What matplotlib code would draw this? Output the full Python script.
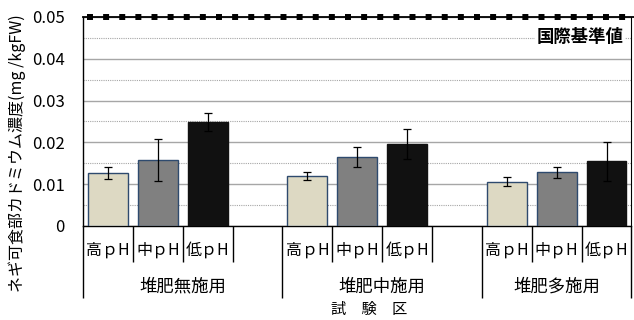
import matplotlib.pyplot as plt
import matplotlib.transforms as mtransforms

plt.rcParams['font.family'] = ['Noto Sans CJK JP', 'DejaVu Sans']

groups = ['堆肥無施用', '堆肥中施用', '堆肥多施用']
levels = ['高ｐH', '中ｐH', '低ｐH']
values = [[0.0127, 0.0158, 0.0248],
          [0.0120, 0.0165, 0.0195],
          [0.0106, 0.0128, 0.0155]]
errors = [[0.0015, 0.0050, 0.0021],
          [0.0010, 0.0025, 0.0036],
          [0.0010, 0.0013, 0.0047]]
standard = 0.05
yticks = [0, 0.01, 0.02, 0.03, 0.04, 0.05]
ytick_labels = ['0', '0.01', '0.02', '0.03', '0.04', '0.05']

colors = ['#ddd9c3', '#808080', '#111111']
edges = ['#2e4a6e', '#2e4a6e', '#111111']

fig = plt.figure(figsize=(6.34, 3.2), dpi=100)
ax = fig.add_axes([0.131, 0.294, 0.865, 0.653])

for g in range(3):
    for i in range(3):
        x = 4 * g + i
        ax.bar(x, values[g][i], width=0.8, color=colors[i], edgecolor=edges[i],
               linewidth=1, zorder=3)
        ax.errorbar(x, values[g][i], yerr=errors[g][i], color='black',
                    linewidth=0.9, capsize=3, capthick=0.9, zorder=4)

ax.set_xlim(-0.5, 10.5)
ax.set_ylim(0, 0.05)
ax.set_yticks(yticks)
ax.set_yticklabels(ytick_labels, fontsize=12)
ax.set_yticks([0.005, 0.015, 0.025, 0.035, 0.045], minor=True)
ax.tick_params(axis='y', which='both', length=0, pad=13)
ax.grid(axis='y', which='major', color='#a6a6a6', linewidth=1, zorder=0)
ax.grid(axis='y', which='minor', color='#a6a6a6', linewidth=0.8,
        linestyle=(0, (1, 1)), zorder=0)

# category boundaries below the axis
ax.set_xticks([-0.5, 3.5, 7.5, 10.5])
ax.set_xticks([0.5, 1.5, 2.5, 4.5, 5.5, 6.5, 8.5, 9.5], minor=True)
ax.tick_params(axis='x', which='major', length=52, width=1, labelbottom=False)
ax.tick_params(axis='x', which='minor', length=26, width=1, labelbottom=False)

for s in ['left', 'bottom', 'right']:
    ax.spines[s].set_color('black')
    ax.spines[s].set_linewidth(1)
ax.spines['right'].set_linewidth(0.8)
ax.spines['top'].set_visible(False)

trans = mtransforms.blended_transform_factory(ax.transData, ax.transAxes)
for g in range(3):
    for i in range(3):
        ax.text(4 * g + i, -0.115, levels[i], transform=trans, ha='center',
                va='center', fontsize=11.5)
group_centers = [1.5, 5.5, 9.0]
for g in range(3):
    ax.text(group_centers[g], -0.292, groups[g], transform=trans, ha='center',
            va='center', fontsize=12.5)
ax.text(5.24, -0.40, '試\u3000験\u3000区', transform=trans, ha='center',
        va='center', fontsize=11)

# international standard line
ax.plot([-0.5, 10.6], [standard, standard], color='black', linewidth=1.3,
        clip_on=False, zorder=5)
ax.plot([-0.43, 10.6], [standard, standard], color='black', linewidth=4.3,
        linestyle=(0, (1, 1.7)), dash_capstyle='butt', clip_on=False, zorder=5)
ax.text(10.34, 0.0452, '国際基準値', ha='right', va='center', fontsize=12.5,
        fontweight='bold', zorder=6,
        bbox=dict(facecolor='white', edgecolor='none', pad=1))

ax.set_ylabel('ネギ可食部カドミウム濃度(mg /kgFW)', fontsize=11.5)
ax.yaxis.set_label_coords(-0.104, 0.35)

fig.savefig('out.png', dpi=100)
